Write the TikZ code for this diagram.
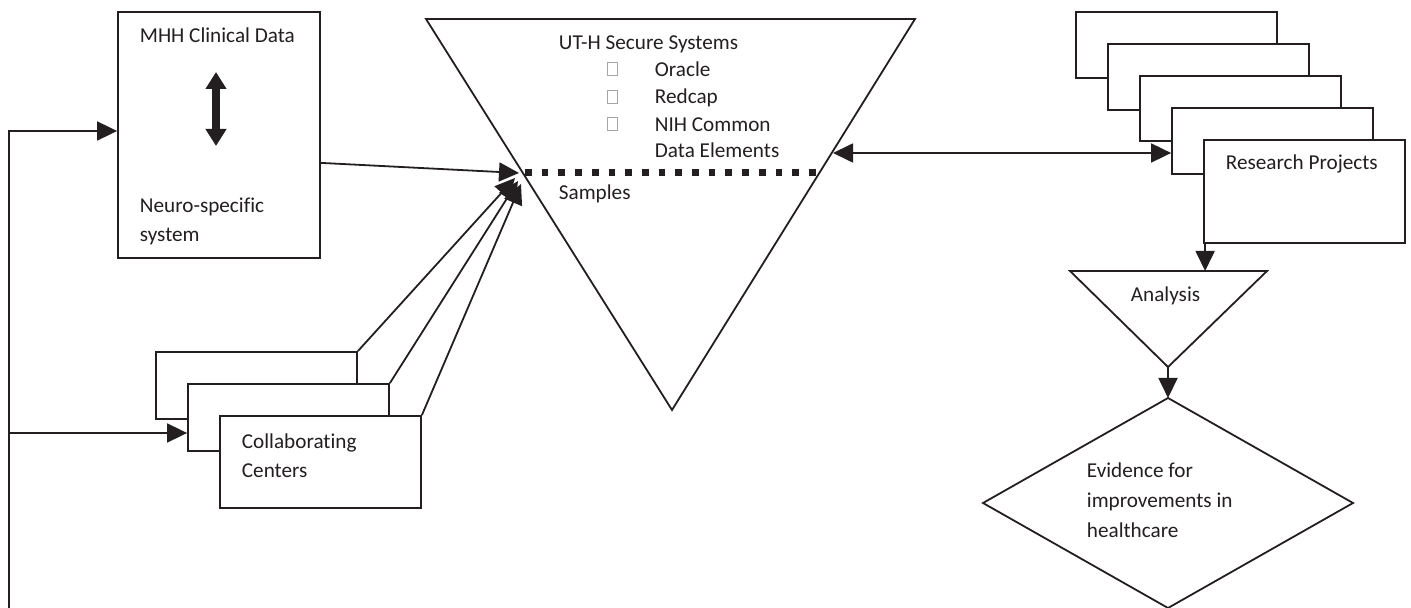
\documentclass[tikz,border=0pt]{standalone}
\usepackage{fontspec}
\setmainfont{Carlito}[Ligatures=NoCommon]
\usetikzlibrary{arrows.meta,fit,calc}
\definecolor{ink}{RGB}{35,31,32}
\begin{document}
\begin{tikzpicture}[x=0.5pt,y=-0.5pt,color=ink,line width=0.9pt,
  box/.style={draw, fill=white, inner sep=0pt},
  arr/.style={-{Triangle[length=10pt,width=9.5pt]}},
  darr/.style={{Triangle[length=10pt,width=9.5pt]}-{Triangle[length=10pt,width=9.5pt]}},
  lbl/.style={anchor=base west, inner sep=0pt, font=\fontsize{10.6}{13}\selectfont},
  glyphbox/.style={draw=gray!70, line width=0.4pt, minimum width=5pt, minimum height=6.5pt, inner sep=0pt}
]
\useasboundingbox (0,0) rectangle (1411,608);

% MHH box
\node[box, fit={(118,12) (320,258)}] (mhh) {};
\node[lbl] (mhht) at (139,43) {MHH Clinical Data};
\node[lbl] (neu1) at (139,213) {Neuro-specific};
\node[lbl] (neu2) at (139,242) {system};
\coordinate (dtop) at (216,72);
\coordinate (dbot) at (216,146);
\draw[line width=3.6pt, {Triangle[length=8.5pt,width=10pt]}-{Triangle[length=8.5pt,width=10pt]}] (dtop) -- (dbot);

% main triangle
\coordinate (tTL) at (426,19);
\coordinate (tTR) at (915,19);
\coordinate (tB) at (672,410);
\draw (tTL) -- (tTR) -- (tB) -- cycle;
\node[lbl] (uth) at (558,50) {UT-H Secure Systems};
\node[glyphbox, anchor=south west] (g1) at (607,76) {};
\node[glyphbox, anchor=south west] (g2) at (607,104) {};
\node[glyphbox, anchor=south west] (g3) at (607,131) {};
\node[lbl] (ora) at (654,77) {Oracle};
\node[lbl] (red) at (654,104) {Redcap};
\node[lbl] (nih) at (654,132) {NIH Common};
\node[lbl] (dat) at (654,158) {Data Elements};
\node[lbl] (sam) at (558,200) {Samples};
\coordinate (dl) at (525,173);
\coordinate (dr) at (818,173);
\draw[line width=3.5pt, dash pattern=on 3.35pt off 5pt] (dl) -- (dr);

% collaborating centers
\node[box, fit={(156,352) (357,419)}] (cb1) {};
\node[box, fit={(188,384) (389,451)}] (cb2) {};
\node[box, fit={(220,416) (421,508)}] (cb3) {};
\node[lbl] (col1) at (241,448) {Collaborating};
\node[lbl] (col2) at (241,477) {Centers};

% arrows into triangle
\coordinate (in0) at (519,173);
\coordinate (in1) at (515,178);
\coordinate (in2) at (518,181);
\coordinate (in3) at (521,184);
\draw[arr] ($(mhh.south east)+(0,-96)$) -- (in0);
\draw[arr] (cb1.north east) -- (in1);
\draw[arr] (cb2.north east) -- (in2);
\draw[arr] (cb3.north east) -- (in3);

% feedback line
\coordinate (fbbot) at (9,608);
\coordinate (fbtop) at (9,131);
\coordinate (fbmid) at (9,433);
\draw[arr] (fbbot) -- (fbtop) -- (fbtop -| mhh.west);
\draw[arr] (fbmid) -- (fbmid -| cb2.west);

% research projects
\node[box, fit={(1076,12) (1277,78)}] (rp1) {};
\node[box, fit={(1108,44) (1309,110)}] (rp2) {};
\node[box, fit={(1140,76) (1341,141)}] (rp3) {};
\node[box, fit={(1172,108) (1373,174)}] (rp4) {};
\node[box, fit={(1204,140) (1405,243)}] (rp5) {};
\node[lbl] (rpt) at (1225,170) {Research Projects};

\coordinate (trR) at (833,153);
\draw[darr] (trR) -- (trR -| rp4.west);

% analysis
\coordinate (aL) at (1070,271);
\coordinate (aR) at (1267,271);
\coordinate (aB) at (1168,367);
\draw (aL) -- (aR) -- (aB) -- cycle;
\node[lbl] (ana) at (1130,302) {Analysis};
\coordinate (rpdrop) at ($(rp5.south west)+(2,0)$);
\draw[arr] (rpdrop) -- (rpdrop |- aL);

% diamond
\coordinate (dT) at (1168,398);
\coordinate (dL) at (983,503);
\coordinate (dR) at (1353,503);
\coordinate (dB) at (1168,608);
\draw (dT) -- (dR) -- (dB) -- (dL) -- cycle;
\draw[arr] (aB) -- (dT);
\node[lbl] (ev1) at (1086,477) {Evidence for};
\node[lbl] (ev2) at (1086,507) {improvements in};
\node[lbl] (ev3) at (1086,537) {healthcare};
\end{tikzpicture}
\end{document}
